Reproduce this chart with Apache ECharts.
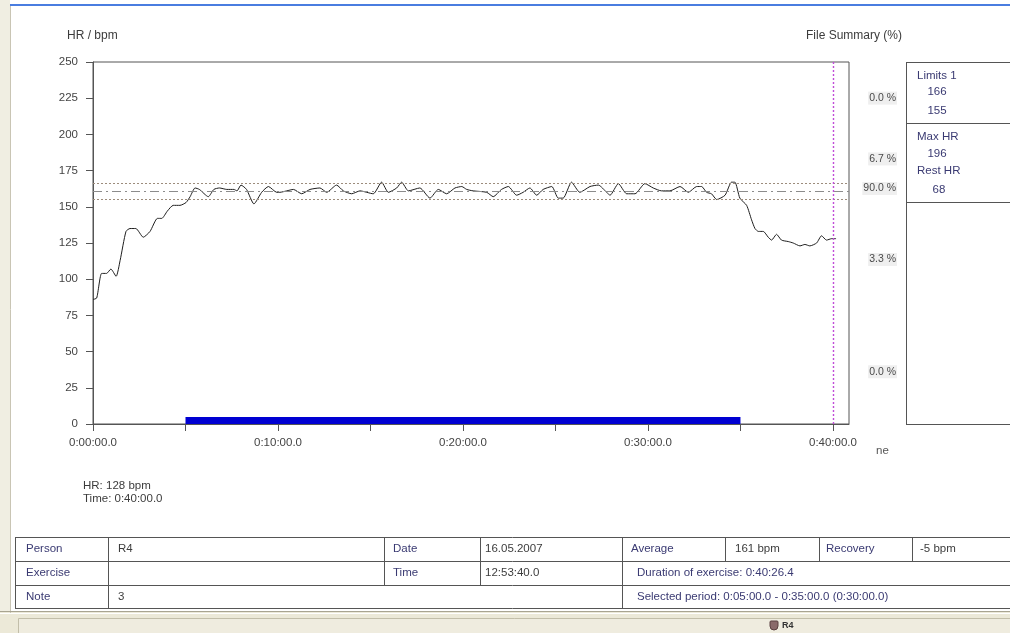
<!DOCTYPE html>
<html>
<head>
<meta charset="utf-8">
<script src="https://cdn.jsdelivr.net/npm/echarts@6/dist/echarts.min.js"></script>
<style>
html, body { margin: 0; padding: 0; background: #ffffff; }
#chart { width: 1010px; height: 633px; }
</style>
</head>
<body>
<div id="chart"></div>
<script>
// Heart-rate recording (seconds from start, beats per minute)
const timeSec = [0,12,28,44,58,75,88,107,120,139,163,185,209,223,241,260,282,302,315,331,345,374,392,410,434,457,467,480,498,522,547,569,596,606,628,650,677,704,736,758,790,812,839,866,909,936,958,985,1001,1023,1060,1093,1120,1147,1174,1196,1212,1233,1277,1298,1325,1347,1374,1395,1417,1439,1460,1488,1509,1525,1552,1579,1612,1639,1666,1677,1704,1731,1758,1790,1817,1844,1871,1904,1931,1958,1974,1990,2006,2023,2050,2071,2082,2098,2120,2136,2147,2158,2174,2190,2201,2217,2233,2255,2271,2293,2309,2325,2347,2363,2379,2396,2410];
const hrBpm = [86,87,104,104,107,102,113,133,135,135,129,133,142,142,147,151,151,153,157,163,162,157,162,163,162,162,161,165,162,152,160,164,160,160,161,162,159,162,163,160,165,161,159,161,159,167,160,163,167,161,163,156,162,159,163,164,162,161,160,157,162,164,158,160,163,158,162,164,156,156,167,160,164,165,160,158,166,159,159,166,163,161,161,164,160,164,164,160,159,155,158,167,167,156,151,141,135,133,133,129,127,131,127,126,125,123,124,123,125,130,127,128,128];

// Limits and profile
const limits = [166, 155];
const maxHr = 196;
const restHr = 68;
const selectedPeriod = [300, 2100];
const cursorSec = 2400;
const cursorHr = 128;

// Axis ticks
const xTickValues = [0, 300, 600, 900, 1200, 1500, 1800, 2100, 2400];
const xLabelValues = [0, 600, 1200, 1800, 2400];
const yMax = 250;
const yStep = 25;
const xMax = 2452;

// Time spent in each zone (zone bounds from top to bottom)
const zoneBounds = [250, 196, 166, 155, 68, 0];
const zoneShares = ['0.0 %', '6.7 %', '90.0 %', '3.3 %', '0.0 %'];

// Summary table
const personName = 'R4';
const recordDate = '16.05.2007';
const startTime = '12:53:40.0';
const averageHr = '161 bpm';
const recoveryHr = '-5 bpm';
const exerciseDuration = '0:40:26.4';
const noteText = '3';

function fmtTime(s) {
  const h = Math.floor(s / 3600);
  const m = Math.floor((s % 3600) / 60);
  const sec = Math.floor(s % 60);
  return h + ':' + String(m).padStart(2, '0') + ':' + String(sec).padStart(2, '0') + '.0';
}

const FONT = '"Liberation Sans", Arial, sans-serif';
const AXIS = '#555555';
const LABEL_BLUE = '#3a3a72';
const VALUE_GREY = '#3c3c3c';
const TS = 11.5;

const chart = echarts.init(document.getElementById('chart'), null, { renderer: 'canvas' });

const hrData = timeSec.map((t, i) => [t, hrBpm[i]]);
const limitMid = (limits[0] + limits[1]) / 2;

function txt(x, y, text, opts) {
  opts = opts || {};
  return {
    type: 'text', x: x, y: y, silent: true, z: 10,
    style: {
      text: text,
      fill: opts.fill || VALUE_GREY,
      font: (opts.weight || 'normal') + ' ' + (opts.size || TS) + 'px ' + FONT,
      align: opts.align || 'left',
      verticalAlign: 'middle',
      backgroundColor: opts.bg,
      padding: opts.bg ? [1, 1] : 0
    }
  };
}
function hline(x1, x2, y, color) {
  return { type: 'line', silent: true, z: 5, shape: { x1: x1, y1: y + 0.5, x2: x2, y2: y + 0.5 }, style: { stroke: color || AXIS, lineWidth: 1 } };
}
function vline(x, y1, y2, color) {
  return { type: 'line', silent: true, z: 5, shape: { x1: x + 0.5, y1: y1, x2: x + 0.5, y2: y2 }, style: { stroke: color || AXIS, lineWidth: 1 } };
}

const option = {
  animation: false,
  backgroundColor: '#ffffff',
  grid: {
    left: 93, top: 62, width: 756, height: 362,
    show: true, borderColor: AXIS, borderWidth: 1, backgroundColor: 'transparent'
  },
  xAxis: {
    type: 'value', min: 0, max: xMax,
    axisLine: { show: true, lineStyle: { color: AXIS, width: 1 } },
    axisTick: { show: true, length: 7, customValues: xTickValues, lineStyle: { color: AXIS } },
    axisLabel: {
      customValues: xLabelValues, formatter: v => fmtTime(v),
      color: '#444', fontSize: TS, fontFamily: FONT, margin: 13
    },
    splitLine: { show: false }
  },
  yAxis: {
    type: 'value', min: 0, max: yMax, interval: yStep,
    axisLine: { show: true, lineStyle: { color: AXIS, width: 1 } },
    axisTick: { show: true, length: 7, lineStyle: { color: AXIS } },
    axisLabel: { color: '#444', fontSize: TS, fontFamily: FONT, margin: 15 },
    splitLine: { show: false }
  },
  series: [{
    type: 'line',
    data: hrData,
    symbol: 'none',
    smooth: 0.2,
    lineStyle: { color: '#1e1e1e', width: 1 },
    z: 3,
    markLine: {
      silent: true, symbol: 'none', label: { show: false },
      animation: false,
      data: [
        { yAxis: limits[0], lineStyle: { type: [2, 2], color: '#9c8c7c', width: 1 } },
        { yAxis: limits[1], lineStyle: { type: [2, 2], color: '#9c8c7c', width: 1 } },
        { yAxis: limitMid, lineStyle: { type: [9, 4, 2, 4], color: '#8c8c8c', width: 1 } },
        { xAxis: cursorSec, lineStyle: { type: [2, 2], color: '#c04cd8', width: 1.4 } }
      ]
    },
    markArea: {
      silent: true,
      itemStyle: { color: '#0000d2' },
      data: [[{ xAxis: selectedPeriod[0], yAxis: 0 }, { xAxis: selectedPeriod[1], yAxis: 4.8 }]]
    }
  }]
};

chart.setOption(option);

// Frame, titles, side panel, table and status bar
const g = [];
// window frame
g.push({ type: 'rect', silent: true, z: 1, shape: { x: 0, y: 0, width: 10, height: 613 }, style: { fill: '#f0eee2' } });
g.push(vline(10, 6, 613, '#c9c5b4'));
g.push({ type: 'rect', silent: true, z: 2, shape: { x: 10, y: 4, width: 1000, height: 2 }, style: { fill: '#4a7de0' } });

// titles
g.push(txt(67, 36, 'HR / bpm', { size: 12, fill: '#3c3c3c' }));
g.push(txt(806, 36, 'File Summary (%)', { size: 12, fill: '#3c3c3c' }));

// zone shares next to the plot
for (let i = 0; i < zoneShares.length; i++) {
  const mid = (zoneBounds[i] + zoneBounds[i + 1]) / 2;
  const py = chart.convertToPixel({ yAxisIndex: 0 }, mid) - 3;
  g.push(txt(897, py, zoneShares[i], { size: 10.5, align: 'right', fill: '#4a4a4a', bg: '#efefef' }));
}
g.push(txt(876, 451, 'ne', { fill: '#555' }));

// limits / profile panel
g.push(vline(906, 62, 424));
g.push(hline(906, 1010, 62));
g.push(hline(906, 1010, 123));
g.push(hline(906, 1010, 202));
g.push(hline(906, 1010, 424));
g.push(txt(917, 76, 'Limits 1', { fill: LABEL_BLUE }));
g.push(txt(937, 92, String(limits[0]), { fill: LABEL_BLUE, align: 'center' }));
g.push(txt(937, 111, String(limits[1]), { fill: LABEL_BLUE, align: 'center' }));
g.push(txt(917, 137, 'Max HR', { fill: LABEL_BLUE }));
g.push(txt(937, 154, String(maxHr), { fill: LABEL_BLUE, align: 'center' }));
g.push(txt(917, 171, 'Rest HR', { fill: LABEL_BLUE }));
g.push(txt(939, 190, String(restHr), { fill: LABEL_BLUE, align: 'center' }));

// cursor readout
g.push(txt(83, 486, 'HR: ' + cursorHr + ' bpm', { fill: '#3c3c3c' }));
g.push(txt(83, 499, 'Time: ' + fmtTime(cursorSec), { fill: '#3c3c3c' }));

// summary table
const rowY = [537, 561, 585, 608];
g.push(hline(15, 1010, rowY[0]));
g.push(hline(15, 1010, rowY[1]));
g.push(hline(15, 1010, rowY[2]));
g.push(hline(15, 1010, rowY[3]));
[15, 108, 622].forEach(x => g.push(vline(x, rowY[0], rowY[3] + 1)));
[384, 480].forEach(x => g.push(vline(x, rowY[0], rowY[2])));
[725, 819, 912].forEach(x => g.push(vline(x, rowY[0], rowY[1])));

const r1 = 549, r2 = 573, r3 = 597;
g.push(txt(26, r1, 'Person', { fill: LABEL_BLUE }));
g.push(txt(118, r1, personName, {}));
g.push(txt(393, r1, 'Date', { fill: LABEL_BLUE }));
g.push(txt(485, r1, recordDate, {}));
g.push(txt(631, r1, 'Average', { fill: LABEL_BLUE }));
g.push(txt(735, r1, averageHr, {}));
g.push(txt(826, r1, 'Recovery', { fill: LABEL_BLUE }));
g.push(txt(920, r1, recoveryHr, {}));
g.push(txt(26, r2, 'Exercise', { fill: LABEL_BLUE }));
g.push(txt(393, r2, 'Time', { fill: LABEL_BLUE }));
g.push(txt(485, r2, startTime, {}));
g.push(txt(637, r2, 'Duration of exercise: ' + exerciseDuration, { fill: LABEL_BLUE }));
g.push(txt(26, r3, 'Note', { fill: LABEL_BLUE }));
g.push(txt(118, r3, noteText, {}));
g.push(txt(637, r3, 'Selected period: ' + fmtTime(selectedPeriod[0]) + ' - ' + fmtTime(selectedPeriod[1]) +
  ' (' + fmtTime(selectedPeriod[1] - selectedPeriod[0]) + ')', { fill: LABEL_BLUE }));

// status bar
g.push({ type: 'rect', silent: true, z: 1, shape: { x: 0, y: 612, width: 1010, height: 21 }, style: { fill: '#ece9d8' } });
g.push(hline(0, 1010, 611, '#a8a491'));
g.push(hline(0, 1010, 613, '#ffffff'));
g.push({ type: 'rect', silent: true, z: 2, shape: { x: 18.5, y: 618.5, width: 1000, height: 20 }, style: { fill: '#efecdf', stroke: '#c2bea9', lineWidth: 1 } });
g.push({ type: 'rect', silent: true, z: 3, shape: { x: 770, y: 621, width: 8, height: 9, r: [1, 1, 4, 4] }, style: { fill: '#8a6a6a', stroke: '#5a4040', lineWidth: 1 } });
g.push(txt(782, 626, personName, { size: 9, weight: 'bold', fill: '#333' }));

chart.setOption({ graphic: { elements: g } });
</script>
</body>
</html>
